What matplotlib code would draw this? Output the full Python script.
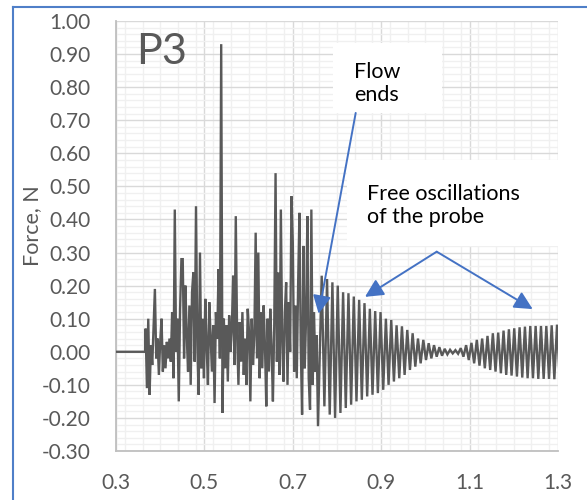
import matplotlib
matplotlib.use("Agg")
import matplotlib.pyplot as plt
from matplotlib.lines import Line2D
from matplotlib.patches import Rectangle
from matplotlib.ticker import MultipleLocator, FormatStrFormatter
import numpy as np

plt.rcParams['font.family'] = ['Lato', 'DejaVu Sans']

# ---- data ----
# quiet start
t_flat = [0.300, 0.366]
f_flat = [0.0, 0.0]

# turbulent flow part, sampled every 0.003 s starting at 0.367 s
noise_t0 = 0.367
noise_dt = 0.003
f_noise = [
    0.07, -0.11, 0.10, -0.13, 0.02, -0.04, 0.08, 0.19, -0.02, 0.04,
    -0.07, 0.03, 0.10, -0.06, 0.02, -0.05, 0.03, -0.02, 0.04, -0.03,
    0.12, -0.08, 0.43, 0.00, 0.10, -0.15, 0.13, 0.28, 0.28, -0.02,
    0.20, 0.05, -0.06, 0.14, -0.10, 0.18, 0.24, -0.03, 0.44, 0.02,
    -0.13, 0.30, -0.05, 0.10, -0.08, 0.16, 0.02, -0.10, 0.15, 0.05,
    -0.06, 0.08, -0.155, 0.12, 0.04, 0.25, -0.02, 0.93, -0.185, 0.10,
    -0.05, 0.08, -0.09, 0.11, 0.00, 0.07, 0.23, -0.04, 0.41, 0.05,
    -0.10, 0.09, -0.03, 0.12, -0.07, 0.04, -0.10, 0.13, 0.06, -0.15,
    0.10, -0.04, 0.05, 0.36, -0.02, 0.30, -0.08, 0.12, -0.05, 0.14,
    0.02, -0.165, 0.10, -0.06, 0.13, 0.01, -0.15, 0.08, 0.54, -0.03,
    0.24, -0.07, 0.43, 0.03, -0.09, 0.12, 0.21, -0.10, 0.15, 0.00,
    0.47, 0.33, -0.06, 0.14, -0.08, 0.20, 0.42, 0.02, -0.19, 0.32,
    -0.05, 0.10, 0.41, -0.08, -0.175, 0.43, -0.10, 0.12, -0.06, 0.05,
    -0.225,
]

# free oscillations: successive extrema (peak, trough, ...) every half period
osc_t0 = 0.7654
osc_half = 0.00605
f_osc = [
    0.23, -0.165, 0.22, -0.19, 0.21, -0.20, 0.20, -0.185, 0.18, -0.17,
    0.177, -0.16, 0.167, -0.15, 0.157, -0.145, 0.147, -0.135, 0.13, -0.13,
    0.123, -0.125, 0.12, -0.115, 0.10, -0.10, 0.096, -0.09, 0.08, -0.08,
    0.077, -0.07, 0.066, -0.055, 0.056, -0.045, 0.04, -0.035, 0.036, -0.025,
    0.026, -0.02, 0.02, -0.015, 0.014, -0.012, 0.009, -0.008, 0.006, -0.005,
    0.005, -0.006, 0.011, -0.015, 0.02, -0.025, 0.027, -0.035, 0.036, -0.042,
    0.04, -0.05, 0.048, -0.055, 0.056, -0.06, 0.058, -0.065, 0.064, -0.07,
    0.068, -0.072, 0.071, -0.075, 0.074, -0.078, 0.076, -0.08, 0.078, -0.08,
    0.078, -0.082, 0.078, -0.082, 0.078, -0.082, 0.08, -0.083, 0.082, -0.085,
]

x_ticks = [0.3, 0.5, 0.7, 0.9, 1.1, 1.3]
y_min, y_max = -0.30, 1.00

t_noise = noise_t0 + noise_dt * np.arange(len(f_noise))
t_osc = osc_t0 + osc_half * np.arange(len(f_osc))
t_all = np.concatenate([t_flat, t_noise, t_osc])
f_all = np.concatenate([f_flat, f_noise, f_osc])

# ---- figure ----
fig = plt.figure(figsize=(5.87, 5.0), dpi=100)
ax = fig.add_axes([116/587, 49/500, 442/587, 430/500])

ax.plot(t_all, f_all, color='#595959', lw=1.7, solid_joinstyle='miter', zorder=3)

ax.set_xlim(0.3, 1.3)
ax.set_ylim(y_min, y_max)
ax.set_xticks(x_ticks)
ax.xaxis.set_minor_locator(MultipleLocator(0.04))
ax.yaxis.set_major_locator(MultipleLocator(0.1))
ax.yaxis.set_minor_locator(MultipleLocator(0.02))
ax.xaxis.set_major_formatter(FormatStrFormatter('%.1f'))
ax.yaxis.set_major_formatter(FormatStrFormatter('%.2f'))

ax.grid(which='major', color='#d9d9d9', lw=1.0, zorder=0)
ax.grid(which='minor', color='#f0f0f0', lw=1.0, zorder=0)
ax.set_axisbelow(True)

for s in ['top', 'right']:
    ax.spines[s].set_visible(False)
for s in ['left', 'bottom']:
    ax.spines[s].set_color('#bfbfbf')
    ax.spines[s].set_linewidth(1.3)

ax.tick_params(which='both', length=0)
ax.tick_params(axis='y', pad=18, labelsize=15, labelcolor='#595959')
ax.tick_params(axis='x', pad=16, labelsize=15, labelcolor='#595959')

ax.set_ylabel('Force, N', fontsize=15.5, color='#595959')
ax.yaxis.set_label_coords(-0.168, 0.525)

ax.text(0.345, 0.905, 'P3', fontsize=31, color='#595959', va='center', ha='left')

# annotation boxes
ax.add_patch(Rectangle((0.791, 0.722), 0.247, 0.211, facecolor='white',
                       edgecolor='none', zorder=4))
ax.text(0.8385, 0.812, 'Flow\nends', fontsize=15.5, color='black', va='center',
        ha='left', linespacing=1.2, zorder=5)

ax.add_patch(Rectangle((0.822, 0.32), 0.49, 0.26, facecolor='white',
                       edgecolor='none', zorder=4, clip_on=False))
ax.text(0.868, 0.442, 'Free oscillations\nof the probe', fontsize=15.5,
        color='black', va='center', ha='left', linespacing=1.2, zorder=5)

arrow_kw = dict(arrowstyle='-|>,head_length=1.1,head_width=0.55',
                color='#4472c4', lw=1.4, shrinkA=0, shrinkB=0)
ax.annotate('', xy=(0.7585, 0.115), xytext=(0.8423, 0.722),
            arrowprops=arrow_kw, zorder=6)
ax.annotate('', xy=(0.8633, 0.166), xytext=(1.0256, 0.3026),
            arrowprops=arrow_kw, zorder=6)
ax.annotate('', xy=(1.2427, 0.129), xytext=(1.0256, 0.3026),
            arrowprops=arrow_kw, zorder=6)

# chart frame (selected chart outline)
fig.add_artist(Line2D([13/587, 13/587], [0, 1 - 7/500], color='#4f7fc8', lw=1.5))
fig.add_artist(Line2D([13/587, 1], [1 - 7/500, 1 - 7/500], color='#4f7fc8', lw=1.5))

fig.savefig('out.png', dpi=100)
